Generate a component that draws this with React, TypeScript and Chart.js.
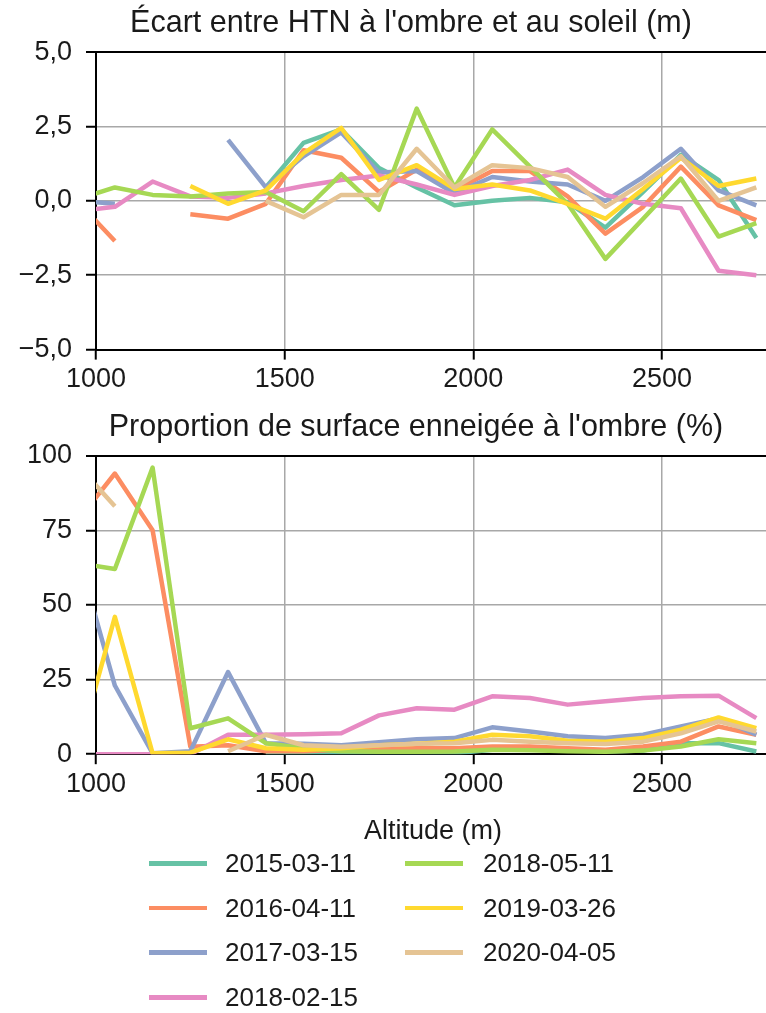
import React, { useEffect, useRef } from "react";
import { Chart, registerables } from "chart.js";

Chart.register(...registerables);

// ---------- DATA ----------
const ALTITUDES = [950, 1050, 1150, 1250, 1350, 1450, 1550, 1650, 1750, 1850, 1950, 2050, 2150, 2250, 2350, 2450, 2550, 2650, 2750];
const DATES = ["2015-03-11", "2016-04-11", "2017-03-15", "2018-02-15", "2018-05-11", "2019-03-26", "2020-04-05"];
const COLORS = ["#66c2a5", "#fc8d62", "#8da0cb", "#e78ac3", "#a6d854", "#ffd92f", "#e5c494"];

// Écart entre HTN à l'ombre et au soleil (m)
const GAP_2015_03_11 = [null, null, null, null, null, 0.45, 1.95, 2.4, 1.1, 0.45, -0.15, 0.0, 0.1, -0.05, -0.9, 0.3, 1.55, 0.7, -1.25];
const GAP_2016_04_11 = [0.0, -1.35, null, -0.45, -0.6, -0.1, 1.7, 1.45, 0.3, 1.05, 0.35, 1.0, 1.0, 0.15, -1.1, -0.2, 1.15, -0.15, -0.65];
const GAP_2017_03_15 = [0.0, -0.1, null, null, 2.05, 0.45, 1.5, 2.3, 0.95, 1.0, 0.25, 0.8, 0.65, 0.55, 0.0, 0.8, 1.75, 0.35, -0.15];
const GAP_2018_02_15 = [-0.35, -0.2, 0.65, 0.15, 0.1, 0.25, 0.5, 0.7, 0.85, 0.55, 0.2, 0.5, 0.7, 1.05, 0.2, -0.1, -0.25, -2.35, -2.5];
const GAP_2018_05_11 = [0.05, 0.45, 0.2, 0.15, 0.25, 0.3, -0.35, 0.9, -0.3, 3.1, 0.45, 2.4, 1.15, -0.1, -1.95, -0.6, 0.75, -1.2, -0.75];
const GAP_2019_03_26 = [null, null, null, 0.5, -0.1, 0.35, 1.6, 2.45, 0.7, 1.2, 0.4, 0.55, 0.35, -0.1, -0.6, 0.4, 1.45, 0.5, 0.75];
const GAP_2020_04_05 = [null, null, null, null, null, 0.0, -0.55, 0.2, 0.2, 1.75, 0.45, 1.2, 1.1, 0.8, -0.2, 0.6, 1.5, 0.0, 0.45];

// Proportion de surface enneigée à l'ombre (%)
const SNOW_2015_03_11 = [null, null, null, null, null, 0.5, 0.5, 0.5, 0.5, 0.5, 0.3, 1.5, 2, 1.5, 0.9, 1.2, 3.7, 3.7, 0.9];
const SNOW_2016_04_11 = [78, 94, 75, 2.5, 3, 1, 1, 1.5, 1.8, 2, 2, 2.6, 2.6, 2, 1.5, 2.6, 4.2, 9.3, 6.5];
const SNOW_2017_03_15 = [68, 23, 0.3, 1, 27.5, 3.7, 3.5, 3, 4, 5, 5.4, 9, 7.6, 6, 5.4, 6.5, 9.3, 12, 6.5];
const SNOW_2018_02_15 = [0, 0, 0, 0, 6.5, 6.5, 6.7, 7, 13, 15.4, 14.9, 19.4, 18.8, 16.6, 17.7, 18.8, 19.4, 19.6, 12.1];
const SNOW_2018_05_11 = [64, 62, 96, 8.7, 12, 3.7, 2, 1, 0.8, 0.8, 0.9, 1.5, 1.3, 1, 0.8, 1.2, 2.6, 5, 3.7];
const SNOW_2019_03_26 = [0, 46, 0.3, 0.5, 5, 2, 1.5, 2, 3, 3.5, 4.2, 6.5, 6, 4.5, 4.2, 5.4, 8.2, 12.3, 8.7];
const SNOW_2020_04_05 = [97, 83, null, null, 1, 6.5, 3, 2.5, 3, 3.5, 3.7, 4.8, 4.2, 3.7, 3.4, 4.2, 7, 11, 7.6];

const GAP_SERIES = [GAP_2015_03_11, GAP_2016_04_11, GAP_2017_03_15, GAP_2018_02_15, GAP_2018_05_11, GAP_2019_03_26, GAP_2020_04_05];
const SNOW_SERIES = [SNOW_2015_03_11, SNOW_2016_04_11, SNOW_2017_03_15, SNOW_2018_02_15, SNOW_2018_05_11, SNOW_2019_03_26, SNOW_2020_04_05];

const X_TICKS = [1000, 1500, 2000, 2500];
const GAP_TICKS = [-5, -2.5, 0, 2.5, 5];
const SNOW_TICKS = [0, 25, 50, 75, 100];

const TITLE_GAP = "Écart entre HTN à l'ombre et au soleil (m)";
const TITLE_SNOW = "Proportion de surface enneigée à l'ombre (%)";
const X_LABEL = "Altitude (m)";

// ---------- STYLE ----------
const FONT = "'Liberation Sans', Arial, Helvetica, sans-serif";
const TEXT = "#1a1a1a";
const GRID = "#a8a8a8";
const PX_PER_M = 566 / 1500; // horizontal scale of the reference (pixels per metre)
const AXIS_LEFT = 96;
const CANVAS_W = 770;

// shifts the title block horizontally (the reference title is not centred on the canvas)
const titleShift = {
  id: "titleShift",
  afterLayout(chart: any, _args: any, opts: any) {
    const t = chart.titleBlock;
    if (t && opts && opts.dx) {
      t.left += opts.dx;
      t.right += opts.dx;
    }
  },
};

function buildDatasets(series: (number | null)[][]) {
  return series.map((arr, i) => ({
    label: DATES[i],
    data: ALTITUDES.map((a, j) => ({ x: a, y: arr[j] })),
    borderColor: COLORS[i],
    backgroundColor: COLORS[i],
    borderWidth: 4.5,
    pointRadius: 0,
    tension: 0,
    spanGaps: false,
    borderJoinStyle: "round" as const,
    order: series.length - i,
  }));
}

function fmtGap(v: number) {
  const s = Math.abs(v).toFixed(1).replace(".", ",");
  return v < 0 ? "\u2212" + s : s;
}

function buildOptions(
  title: string,
  yMin: number,
  yMax: number,
  yTicks: number[],
  fmt: (v: number) => string,
  xTitle: boolean,
  titlePadTop: number,
  titleDx: number
) {
  const xMax = 1000 + (CANVAS_W - AXIS_LEFT) / PX_PER_M;
  return {
    responsive: false,
    animation: false,
    devicePixelRatio: 1,
    layout: { padding: 0 },
    plugins: {
      legend: { display: false },
      tooltip: { enabled: false },
      titleShift: { dx: titleDx },
      title: {
        display: true,
        text: title,
        color: TEXT,
        font: { family: FONT, size: 30.5, weight: "normal" },
        padding: { top: titlePadTop, bottom: 10 },
      },
    },
    scales: {
      x: {
        type: "linear",
        min: 1000,
        max: xMax,
        afterBuildTicks: (s: any) => {
          s.ticks = X_TICKS.map((v) => ({ value: v }));
        },
        ticks: {
          color: TEXT,
          font: { family: FONT, size: 27 },
          padding: 4,
          maxRotation: 0,
          autoSkip: false,
          callback: (v: any) => String(v),
        },
        grid: { color: GRID, lineWidth: 1.5, tickLength: 10, tickColor: "#000", tickWidth: 2, drawTicks: true },
        border: { display: true, color: "#000", width: 2 },
        title: {
          display: xTitle,
          text: X_LABEL,
          color: TEXT,
          font: { family: FONT, size: 27 },
          padding: { top: 11, bottom: 4 },
        },
      },
      y: {
        type: "linear",
        min: yMin,
        max: yMax,
        afterBuildTicks: (s: any) => {
          s.ticks = yTicks.map((v) => ({ value: v }));
        },
        afterFit: (s: any) => {
          s.width = AXIS_LEFT;
        },
        ticks: {
          color: TEXT,
          font: { family: FONT, size: 27 },
          padding: 14,
          autoSkip: false,
          callback: (v: any) => fmt(Number(v)),
        },
        grid: {
          color: (ctx: any) => (ctx.tick && ctx.tick.value === yMax ? "#000" : GRID),
          lineWidth: (ctx: any) => (ctx.tick && ctx.tick.value === yMax ? 2 : 1.5),
          tickLength: 10,
          tickColor: "#000",
          tickWidth: 2,
          drawTicks: true,
        },
        border: { display: true, color: "#000", width: 2 },
      },
    },
  } as any;
}

function LineChart(props: {
  series: (number | null)[][];
  title: string;
  yMin: number;
  yMax: number;
  yTicks: number[];
  fmt: (v: number) => string;
  xTitle: boolean;
  height: number;
  top: number;
  titlePadTop: number;
  titleDx: number;
}) {
  const ref = useRef<HTMLCanvasElement | null>(null);
  useEffect(() => {
    if (!ref.current) return;
    const chart = new Chart(ref.current, {
      type: "line",
      data: { datasets: buildDatasets(props.series) as any },
      options: buildOptions(props.title, props.yMin, props.yMax, props.yTicks, props.fmt, props.xTitle, props.titlePadTop, props.titleDx),
      plugins: [titleShift],
    });
    return () => chart.destroy();
  }, []);
  return (
    <canvas
      ref={ref}
      width={CANVAS_W}
      height={props.height}
      style={{ position: "absolute", left: 0, top: props.top, width: CANVAS_W, height: props.height, display: "block" }}
    />
  );
}

function Legend() {
  return (
    <>
      {DATES.map((d, i) => {
        const col = i < 4 ? 0 : 1;
        const row = i < 4 ? i : i - 4;
        const cy = 863 + row * 44.7;
        const lineLeft = col === 0 ? 149 : 405;
        const textLeft = col === 0 ? 225 : 483;
        return (
          <React.Fragment key={d}>
            <div style={{ position: "absolute", left: lineLeft, top: cy - 2, width: 58, height: 4.5, background: COLORS[i] }} />
            <div
              style={{
                position: "absolute",
                left: textLeft,
                top: cy - 16,
                height: 32,
                lineHeight: "32px",
                fontFamily: FONT,
                fontSize: 26,
                color: TEXT,
                whiteSpace: "nowrap",
              }}
            >
              {d}
            </div>
          </React.Fragment>
        );
      })}
    </>
  );
}

export default function App() {
  return (
    <div style={{ position: "absolute", left: 0, top: 0, width: 766, height: 1013, overflow: "hidden", background: "#fff" }}>
      <LineChart series={GAP_SERIES} title={TITLE_GAP} yMin={-5} yMax={5} yTicks={GAP_TICKS} fmt={fmtGap} xTitle={false} height={400} top={0} titlePadTop={5.5} titleDx={26} />
      <LineChart series={SNOW_SERIES} title={TITLE_SNOW} yMin={0} yMax={100} yTicks={SNOW_TICKS} fmt={(v) => String(v)} xTitle={true} height={450} top={402} titlePadTop={7} titleDx={31} />
      <Legend />
    </div>
  );
}
